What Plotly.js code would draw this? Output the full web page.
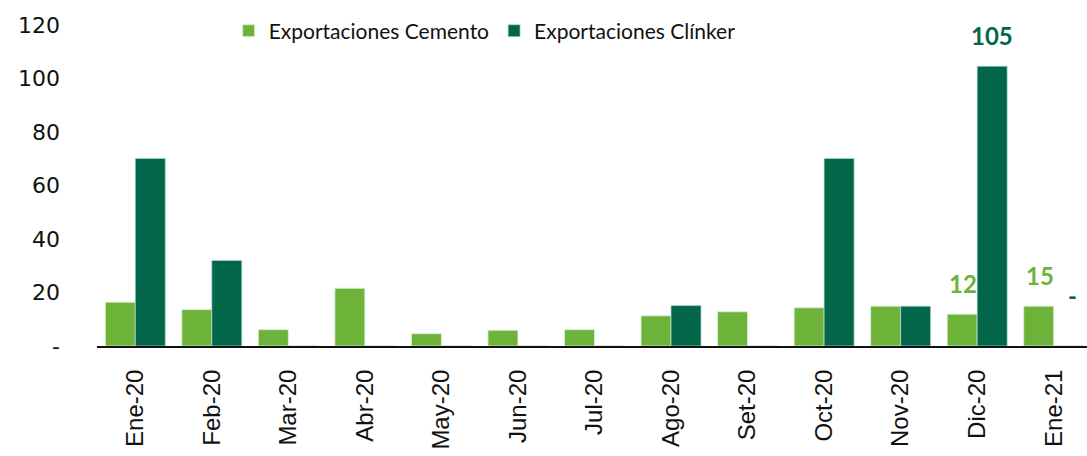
<!DOCTYPE html>
<html>
<head>
<meta charset="utf-8">
<script src="https://cdn.plot.ly/plotly-3.0.1.min.js"></script>
<style>html,body{margin:0;padding:0;background:#fff;}#chart{width:1087px;height:456px;}</style>
</head>
<body>
<div id="chart"></div>
<script>
const categories = ['Ene-20','Feb-20','Mar-20','Abr-20','May-20','Jun-20','Jul-20','Ago-20','Set-20','Oct-20','Nov-20','Dic-20','Ene-21'];
const cemento = [16.4, 13.6, 6.1, 21.6, 4.6, 5.9, 6.1, 11.3, 12.8, 14.3, 14.9, 11.9, 14.9];
const clinker = [70.1, 32.0, 0, 0, 0, 0, 0, 15.1, 0, 70.1, 14.9, 104.6, 0];
const seriesNames = ['Exportaciones Cemento', 'Exportaciones Clínker'];
const yTickVals = [0, 20, 40, 60, 80, 100, 120];
const yTickText = ['-', '20', '40', '60', '80', '100', '120'];
const labelledCemento = ['Dic-20', 'Ene-21'];
const labelledClinker = ['Dic-20', 'Ene-21'];

const LIGHT = '#6DB33A';
const DARK = '#02674A';

function fmt(v) { return v === 0 ? '-' : String(Math.round(v)); }

const traces = [
  {type: 'bar', name: seriesNames[0], x: categories, y: cemento,
   marker: {color: LIGHT, line: {color: 'rgba(220,240,210,0.9)', width: 1}}, hoverinfo: 'x+y'},
  {type: 'bar', name: seriesNames[1], x: categories, y: clinker,
   marker: {color: DARK, line: {color: 'rgba(180,220,200,0.7)', width: 1}}, hoverinfo: 'x+y'}
];

const annotations = [];
labelledCemento.forEach(c => {
  const i = categories.indexOf(c);
  annotations.push({x: c, y: cemento[i], xref: 'x', yref: 'y', text: '<b>' + fmt(cemento[i]) + '</b>',
    showarrow: false, yanchor: 'bottom', yshift: 14, xshift: -14,
    font: {family: 'Lato, sans-serif', size: 24, color: LIGHT}});
});
labelledClinker.forEach(c => {
  const i = categories.indexOf(c);
  annotations.push({x: c, y: clinker[i], xref: 'x', yref: 'y', text: '<b>' + fmt(clinker[i]) + '</b>',
    showarrow: false, yanchor: 'bottom', yshift: clinker[i] === 0 ? 34 : 14, xshift: clinker[i] === 0 ? 19 : 15,
    font: {family: 'Lato, sans-serif', size: 24, color: DARK}});
});

const layout = {
  width: 1087, height: 456,
  margin: {l: 97, r: 0, t: 25, b: 110, pad: 0},
  paper_bgcolor: '#fff', plot_bgcolor: '#fff',
  barmode: 'group', bargap: 0.216, bargroupgap: 0,
  showlegend: true,
  legend: {orientation: 'h', x: 0.133, xanchor: 'left', y: 1.045, yanchor: 'top',
    font: {family: 'Lato, sans-serif', size: 21, color: '#111'},
    bgcolor: 'rgba(0,0,0,0)', itemwidth: 30, traceorder: 'normal'},
  xaxis: {type: 'category', range: [-0.5, 12.435], showgrid: false, zeroline: false,
    showline: true, linecolor: '#111', linewidth: 2, ticks: '', tickangle: -90, ticklabelstandoff: 12,
    tickfont: {family: 'Liberation Sans, Arial, sans-serif', size: 24, color: '#111'}, fixedrange: true},
  yaxis: {range: [0, 120], tickvals: yTickVals, ticktext: yTickText, showgrid: false, zeroline: false,
    showline: false, ticks: '', ticklabelstandoff: 36,
    tickfont: {family: 'DejaVu Sans, sans-serif', size: 22, color: '#111'}, fixedrange: true},
  annotations: annotations
};

Plotly.newPlot('chart', traces, layout, {displayModeBar: false, staticPlot: true});
</script>
</body>
</html>
